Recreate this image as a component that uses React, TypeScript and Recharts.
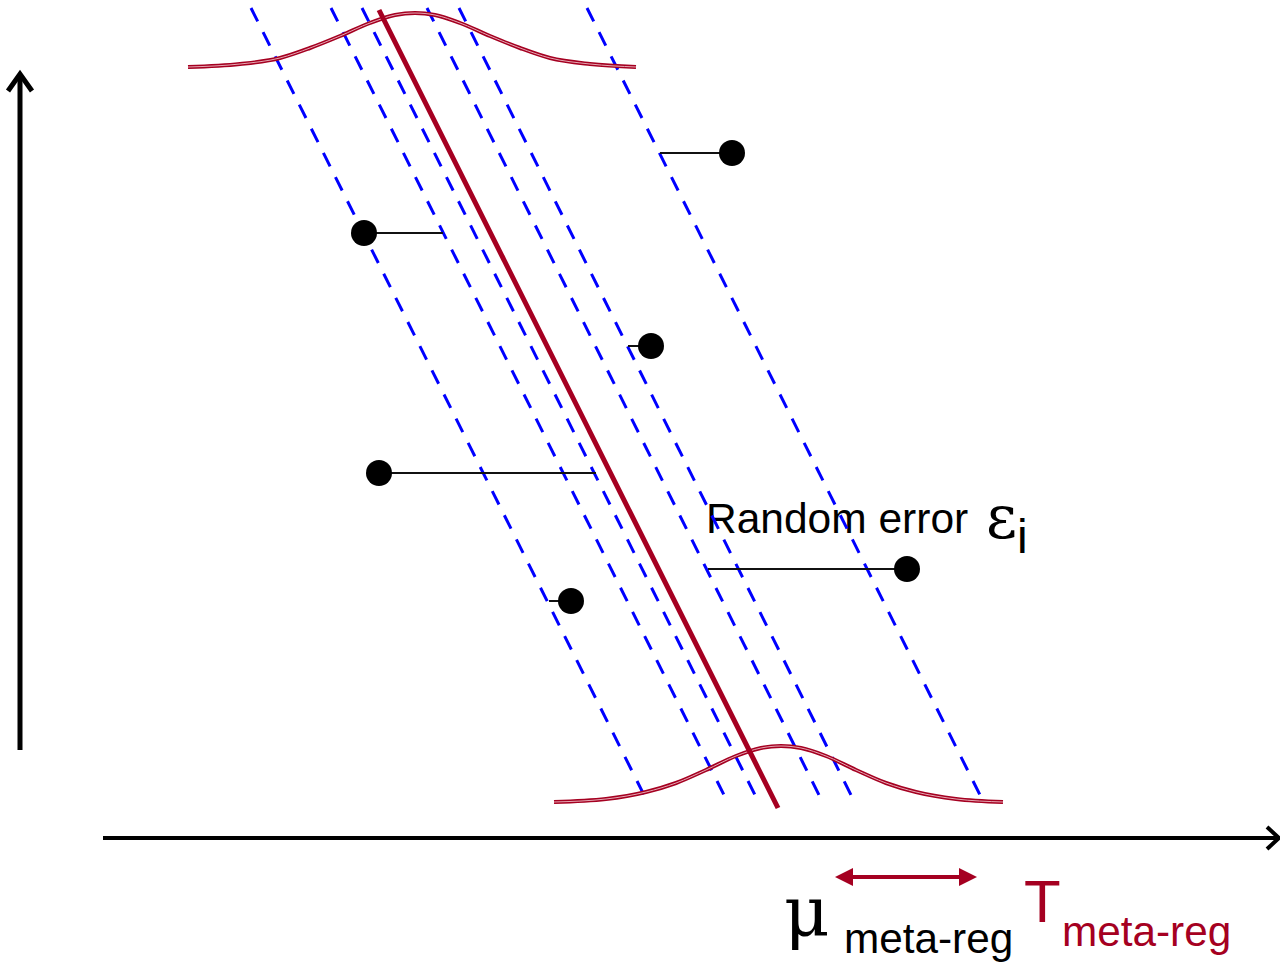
import React from 'react';
import { ComposedChart, Line, Scatter, XAxis, YAxis } from 'recharts';

const W = 1280;
const H = 962;
const RED = '#A50021';
const BLUE = '#0000FF';

// parallel dashed lines (x where each crosses the top and bottom)
const bandTopY = 8;
const bandBottomY = 801;
const bandTopX = [251, 331, 362, 427, 459, 587];
const bandBottomX = [647, 727, 758, 822, 854, 983];

// meta-regression line
const fitX = [379, 778];
const fitY = [10, 808];

// distribution at the top
const topCurveX = [188, 240, 280, 310, 340, 370, 395, 415, 435, 460, 490, 520, 550, 590, 636];
const topCurveY = [67, 64, 58, 48, 36, 23, 15, 13, 15, 23, 36, 48, 58, 64, 67];

// distribution at the bottom
const bottomCurveX = [554, 606, 646, 676, 706, 736, 761, 781, 801, 826, 856, 886, 916, 956, 1003];
const bottomCurveY = [802, 799, 792, 783, 770, 756, 748, 746, 748, 756, 770, 783, 792, 799, 802];

// studies and where their error segment starts
const studyX = [732, 364, 651, 379, 907, 571];
const studyY = [153, 233, 346, 473, 569, 601];
const errorFromX = [660, 443, 628, 596, 708, 549];

// axes
const vAxis = [{ x: 20, y: 750 }, { x: 20, y: 76 }];
const vHead = [{ x: 8, y: 91 }, { x: 20, y: 74 }, { x: 32, y: 91 }];
const hAxis = [{ x: 103, y: 838 }, { x: 1278, y: 838 }];
const hHead = [{ x: 1267, y: 827 }, { x: 1279, y: 838 }, { x: 1267, y: 849 }];

// tau double arrow
const tauShaft = [{ x: 850, y: 877 }, { x: 962, y: 877 }];
const tauHeads = [{ x: 835, y: 877, dir: -1 }, { x: 977, y: 877, dir: 1 }];

const toPts = (xs: number[], ys: number[]) => xs.map((x, i) => ({ x, y: ys[i] }));

const bandLines = bandTopX.map((x, i) => [
  { x, y: bandTopY },
  { x: bandBottomX[i], y: bandBottomY },
]);
const errorLines = studyX.map((x, i) => [
  { x: errorFromX[i], y: studyY[i] },
  { x, y: studyY[i] },
]);
const studies = toPts(studyX, studyY);

const Dot = (p: any) => <circle cx={p.cx} cy={p.cy} r={13} fill="#000" />;

const Head = (p: any) => {
  const d = p.payload.dir;
  const pts = `${p.cx},${p.cy} ${p.cx - d * 18},${p.cy - 9} ${p.cx - d * 18},${p.cy + 9}`;
  return <polygon points={pts} fill={RED} />;
};

const sans = '"Liberation Sans", Arial, sans-serif';
const serif = '"DejaVu Serif", "Liberation Serif", serif';

export default function App() {
  return (
    <div style={{ position: 'absolute', left: 0, top: 0, width: W, height: H, background: '#fff' }}>
      <ComposedChart width={W} height={H} margin={{ top: 0, right: 0, bottom: 0, left: 0 }}>
        <XAxis type="number" dataKey="x" domain={[0, W]} hide allowDataOverflow />
        <YAxis type="number" dataKey="y" domain={[0, H]} reversed hide allowDataOverflow />

        <Line data={vAxis} dataKey="y" stroke="#000" strokeWidth={5} dot={false} activeDot={false} isAnimationActive={false} />
        <Line data={vHead} dataKey="y" stroke="#000" strokeWidth={5} dot={false} activeDot={false} isAnimationActive={false} />
        <Line data={hAxis} dataKey="y" stroke="#000" strokeWidth={4} dot={false} activeDot={false} isAnimationActive={false} />
        <Line data={hHead} dataKey="y" stroke="#000" strokeWidth={4} dot={false} activeDot={false} isAnimationActive={false} />

        {bandLines.map((d, i) => (
          <Line key={'b' + i} data={d} dataKey="y" stroke={BLUE} strokeWidth={3} strokeDasharray="15 12" dot={false} activeDot={false} isAnimationActive={false} />
        ))}

        <Line data={toPts(topCurveX, topCurveY)} dataKey="y" type="monotone" stroke={RED} strokeWidth={4} dot={false} activeDot={false} isAnimationActive={false} />
        <Line data={toPts(topCurveX, topCurveY)} dataKey="y" type="monotone" stroke="#E6A9B4" strokeWidth={1} dot={false} activeDot={false} isAnimationActive={false} />
        <Line data={toPts(bottomCurveX, bottomCurveY)} dataKey="y" type="monotone" stroke={RED} strokeWidth={4} dot={false} activeDot={false} isAnimationActive={false} />
        <Line data={toPts(bottomCurveX, bottomCurveY)} dataKey="y" type="monotone" stroke="#E6A9B4" strokeWidth={1} dot={false} activeDot={false} isAnimationActive={false} />

        <Line data={toPts(fitX, fitY)} dataKey="y" stroke={RED} strokeWidth={5} dot={false} activeDot={false} isAnimationActive={false} />

        {errorLines.map((d, i) => (
          <Line key={'e' + i} data={d} dataKey="y" stroke="#111" strokeWidth={2} dot={false} activeDot={false} isAnimationActive={false} />
        ))}
        <Scatter data={studies} dataKey="y" shape={Dot} isAnimationActive={false} />

        <Line data={tauShaft} dataKey="y" stroke={RED} strokeWidth={4} dot={false} activeDot={false} isAnimationActive={false} />
        <Scatter data={tauHeads} dataKey="y" shape={Head} isAnimationActive={false} />

        <text x={706} y={533} fontFamily={sans} fontSize={42.5} fill="#000">Random error</text>
        <text x={986} y={538} fontFamily={serif} fontSize={60} fill="#000">ε</text>
        <text x={1017} y={553} fontFamily={sans} fontSize={48} fill="#000">i</text>

        <text x={784} y={936} fontFamily={serif} fontSize={70} fill="#000">μ</text>
        <text x={844} y={953} fontFamily={sans} fontSize={42.3} fill="#000">meta-reg</text>
        <text x={1024} y={922} fontFamily={sans} fontSize={60} fill={RED}>T</text>
        <text x={1062} y={946} fontFamily={sans} fontSize={42.3} fill={RED}>meta-reg</text>
      </ComposedChart>
    </div>
  );
}
